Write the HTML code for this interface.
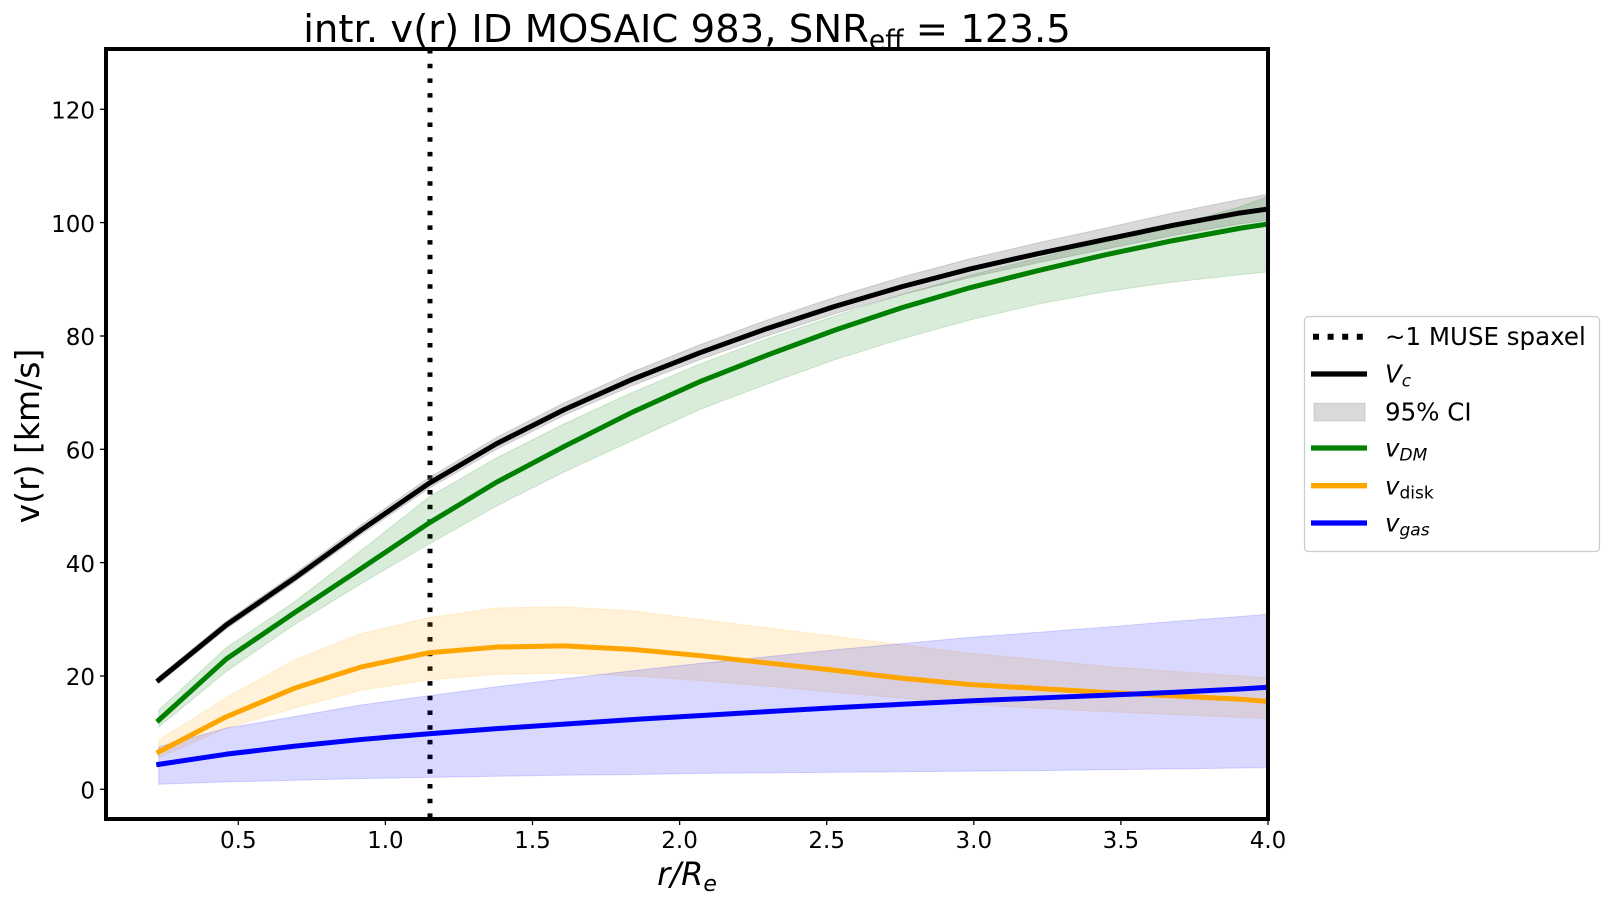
<!DOCTYPE html>
<html>
<head>
<meta charset="utf-8">
<style>
  html, body { margin: 0; padding: 0; background: #ffffff; }
  svg { display: block; }
  text { font-family: "DejaVu Sans", "Liberation Sans", sans-serif; fill: #000; }
</style>
</head>
<body>
<svg width="1609" height="903" viewBox="0 0 1609 903" xmlns="http://www.w3.org/2000/svg">
  <defs>
    <clipPath id="axclip">
      <rect x="106" y="49" width="1162" height="770"/>
    </clipPath>
  </defs>
  <rect x="0" y="0" width="1609" height="903" fill="#ffffff"/>

  <!-- Title -->
  <text x="687" y="42" font-size="38.6" text-anchor="middle">intr. v(r) ID MOSAIC 983, SNR<tspan font-size="26.5" dy="7">eff</tspan><tspan dy="-7"> = 123.5</tspan></text>

  <g clip-path="url(#axclip)">
    <!-- dotted MUSE spaxel line -->
    <line x1="430" y1="49" x2="430" y2="819" stroke="#000" stroke-width="5" stroke-dasharray="4.5 10.2"/>

    <g transform="matrix(294.2 0 0 -5.667 91.2 789.3)">
      <!-- fills -->
      <polygon fill="rgb(128,128,128)" fill-opacity="0.3" stroke="rgb(128,128,128)" stroke-opacity="0.3" stroke-width="1" vector-effect="non-scaling-stroke"
        points="0.2297,19.9 0.4594,29.7 0.6891,38 0.9188,46.7 1.1485,55 1.3782,62.1 1.6079,68.2 1.8376,73.6 2.0673,78.4 2.297,82.8 2.5267,86.8 2.7564,90.4 2.9861,93.6 3.2158,96.4 3.4455,99 3.6752,101.7 3.9049,104.1 4,105 4,100.4 3.9049,99.8 3.6752,97.7 3.4455,95.3 3.2158,92.9 2.9861,90.3 2.7564,87.3 2.5267,83.9 2.297,80 2.0673,75.8 1.8376,71.2 1.6079,66 1.3782,60 1.1485,53.1 0.9188,45 0.6891,36.5 0.4594,28.3 0.2297,18.7"/>
      <polygon fill="#008000" fill-opacity="0.15" stroke="#008000" stroke-opacity="0.15" stroke-width="1" vector-effect="non-scaling-stroke"
        points="0.2297,14 0.4594,25 0.6891,33 0.9188,42.2 1.1485,51.6 1.3782,58.5 1.6079,64.5 1.8376,70 2.0673,75 2.297,79.5 2.5267,83.5 2.7564,87.3 2.9861,90.7 3.2158,93.7 3.4455,96.6 3.6752,99.4 3.9049,102.8 4,104.6 4,91.3 3.9049,90.8 3.6752,89.5 3.4455,87.8 3.2158,85.6 2.9861,82.8 2.7564,79.5 2.5267,75.8 2.297,71.5 2.0673,67 1.8376,61.5 1.6079,56 1.3782,50 1.1485,43.3 0.9188,36.3 0.6891,29 0.4594,20.8 0.2297,11"/>
      <polygon fill="#ffa500" fill-opacity="0.15" stroke="#ffa500" stroke-opacity="0.15" stroke-width="1" vector-effect="non-scaling-stroke"
        points="0.2297,8.7 0.4594,16.2 0.6891,22.8 0.9188,27.5 1.1485,30.3 1.3782,32 1.6079,32.2 1.8376,31.5 2.0673,30 2.297,28.5 2.5267,27 2.7564,25.5 2.9861,24 3.2158,22.9 3.4455,21.7 3.6752,20.8 3.9049,20 4,19.6 4,12.5 3.9049,12.7 3.6752,13.2 3.4455,13.7 3.2158,14.3 2.9861,15 2.7564,16.1 2.5267,17.1 2.297,18.2 2.0673,19.2 1.8376,20 1.6079,20.5 1.3782,20.3 1.1485,19.3 0.9188,17.5 0.6891,14.3 0.4594,10.8 0.2297,5.6"/>
      <polygon fill="#0000ff" fill-opacity="0.15" stroke="#0000ff" stroke-opacity="0.15" stroke-width="1" vector-effect="non-scaling-stroke"
        points="0.2297,7.5 0.4594,10.8 0.6891,12.8 0.9188,14.9 1.1485,16.5 1.3782,18.1 1.6079,19.5 1.8376,20.9 2.0673,22.2 2.297,23.4 2.5267,24.6 2.7564,25.7 2.9861,26.8 3.2158,27.7 3.4455,28.6 3.6752,29.6 3.9049,30.5 4,30.9 4,3.8 3.9049,3.75 3.6752,3.6 3.4455,3.45 3.2158,3.3 2.9861,3.2 2.7564,3.1 2.5267,3 2.297,2.9 2.0673,2.8 1.8376,2.6 1.6079,2.5 1.3782,2.3 1.1485,2.1 0.9188,1.9 0.6891,1.6 0.4594,1.3 0.2297,0.9"/>

      <!-- lines -->
      <polyline fill="none" stroke="#000000" stroke-width="5" stroke-linejoin="round" stroke-linecap="square" vector-effect="non-scaling-stroke"
        points="0.2297,19.3 0.4594,29 0.6891,37.2 0.9188,45.8 1.1485,54 1.3782,61 1.6079,67 1.8376,72.3 2.0673,77 2.297,81.3 2.5267,85.2 2.7564,88.7 2.9861,91.8 3.2158,94.5 3.4455,97 3.6752,99.5 3.9049,101.7 4,102.4"/>
      <polyline fill="none" stroke="#008000" stroke-width="5" stroke-linejoin="round" stroke-linecap="square" vector-effect="non-scaling-stroke"
        points="0.2297,12.2 0.4594,23 0.6891,31.1 0.9188,39 1.1485,47 1.3782,54.2 1.6079,60.5 1.8376,66.5 2.0673,71.9 2.297,76.6 2.5267,81 2.7564,85 2.9861,88.5 3.2158,91.5 3.4455,94.3 3.6752,96.8 3.9049,99 4,99.75"/>
      <polyline fill="none" stroke="#ffa500" stroke-width="5" stroke-linejoin="round" stroke-linecap="square" vector-effect="non-scaling-stroke"
        points="0.2297,6.6 0.4594,12.8 0.6891,17.8 0.9188,21.6 1.1485,24.1 1.3782,25.1 1.6079,25.3 1.8376,24.7 2.0673,23.6 2.297,22.3 2.5267,21 2.7564,19.6 2.9861,18.5 3.2158,17.8 3.4455,17.1 3.6752,16.5 3.9049,15.9 4,15.5"/>
      <polyline fill="none" stroke="#0000ff" stroke-width="5" stroke-linejoin="round" stroke-linecap="square" vector-effect="non-scaling-stroke"
        points="0.2297,4.4 0.4594,6.2 0.6891,7.6 0.9188,8.8 1.1485,9.8 1.3782,10.7 1.6079,11.5 1.8376,12.3 2.0673,13 2.297,13.7 2.5267,14.4 2.7564,15 2.9861,15.6 3.2158,16.1 3.4455,16.6 3.6752,17.1 3.9049,17.7 4,18"/>
    </g>
  </g>

  <!-- spines -->
  <rect x="106" y="49" width="1162" height="770" fill="none" stroke="#000" stroke-width="4"/>

  <!-- y ticks -->
  <g stroke="#000" stroke-width="1.3">
    <line x1="100" y1="789.3" x2="104" y2="789.3"/>
    <line x1="100" y1="676" x2="104" y2="676"/>
    <line x1="100" y1="562.6" x2="104" y2="562.6"/>
    <line x1="100" y1="449.3" x2="104" y2="449.3"/>
    <line x1="100" y1="336" x2="104" y2="336"/>
    <line x1="100" y1="222.6" x2="104" y2="222.6"/>
    <line x1="100" y1="109.3" x2="104" y2="109.3"/>
  </g>
  <g font-size="23" text-anchor="end">
    <text x="95" y="798.5">0</text>
    <text x="95" y="685.2">20</text>
    <text x="95" y="571.8">40</text>
    <text x="95" y="458.5">60</text>
    <text x="95" y="345.2">80</text>
    <text x="95" y="231.8">100</text>
    <text x="95" y="118.5">120</text>
  </g>

  <!-- x ticks -->
  <g stroke="#000" stroke-width="1.3">
    <line x1="238.3" y1="821" x2="238.3" y2="825"/>
    <line x1="385.4" y1="821" x2="385.4" y2="825"/>
    <line x1="532.5" y1="821" x2="532.5" y2="825"/>
    <line x1="679.6" y1="821" x2="679.6" y2="825"/>
    <line x1="826.7" y1="821" x2="826.7" y2="825"/>
    <line x1="973.8" y1="821" x2="973.8" y2="825"/>
    <line x1="1120.9" y1="821" x2="1120.9" y2="825"/>
    <line x1="1268" y1="821" x2="1268" y2="825"/>
  </g>
  <g font-size="23" text-anchor="middle">
    <text x="238.3" y="848">0.5</text>
    <text x="385.4" y="848">1.0</text>
    <text x="532.5" y="848">1.5</text>
    <text x="679.6" y="848">2.0</text>
    <text x="826.7" y="848">2.5</text>
    <text x="973.8" y="848">3.0</text>
    <text x="1120.9" y="848">3.5</text>
    <text x="1268" y="848">4.0</text>
  </g>

  <!-- axis labels -->
  <text x="687" y="885" font-size="32" text-anchor="middle" font-style="italic">r/R<tspan font-size="22" dy="6">e</tspan></text>
  <text transform="translate(39,436) rotate(-90)" font-size="33" text-anchor="middle">v(r) [km/s]</text>

  <!-- legend -->
  <rect x="1304.5" y="316.5" width="295" height="235" rx="4" ry="4" fill="#ffffff" fill-opacity="0.8" stroke="#cccccc" stroke-width="1.2"/>
  <line x1="1313" y1="336.7" x2="1367" y2="336.7" stroke="#000" stroke-width="6" stroke-dasharray="6 8.6"/>
  <line x1="1311" y1="374" x2="1367" y2="374" stroke="#000" stroke-width="5.3"/>
  <rect x="1314" y="403.3" width="51" height="17.7" fill="rgb(128,128,128)" fill-opacity="0.3" stroke="rgb(128,128,128)" stroke-opacity="0.3" stroke-width="1"/>
  <line x1="1311" y1="448" x2="1367" y2="448" stroke="#008000" stroke-width="5.3"/>
  <line x1="1311" y1="485.7" x2="1367" y2="485.7" stroke="#ffa500" stroke-width="5.3"/>
  <line x1="1311" y1="523" x2="1367" y2="523" stroke="#0000ff" stroke-width="5.3"/>

  <g font-size="24.5">
    <text x="1385" y="345">∼1 MUSE spaxel</text>
    <text x="1385" y="382.5" font-style="italic">V<tspan font-size="17" dy="4">c</tspan></text>
    <text x="1385" y="420.5">95% CI</text>
    <text x="1385" y="456.7" font-style="italic">v<tspan font-size="17" dy="4">DM</tspan></text>
    <text x="1385" y="494.5"><tspan font-style="italic">v</tspan><tspan font-size="17" dy="4">disk</tspan></text>
    <text x="1385" y="531.7" font-style="italic">v<tspan font-size="17" dy="4">gas</tspan></text>
  </g>
</svg>
</body>
</html>
